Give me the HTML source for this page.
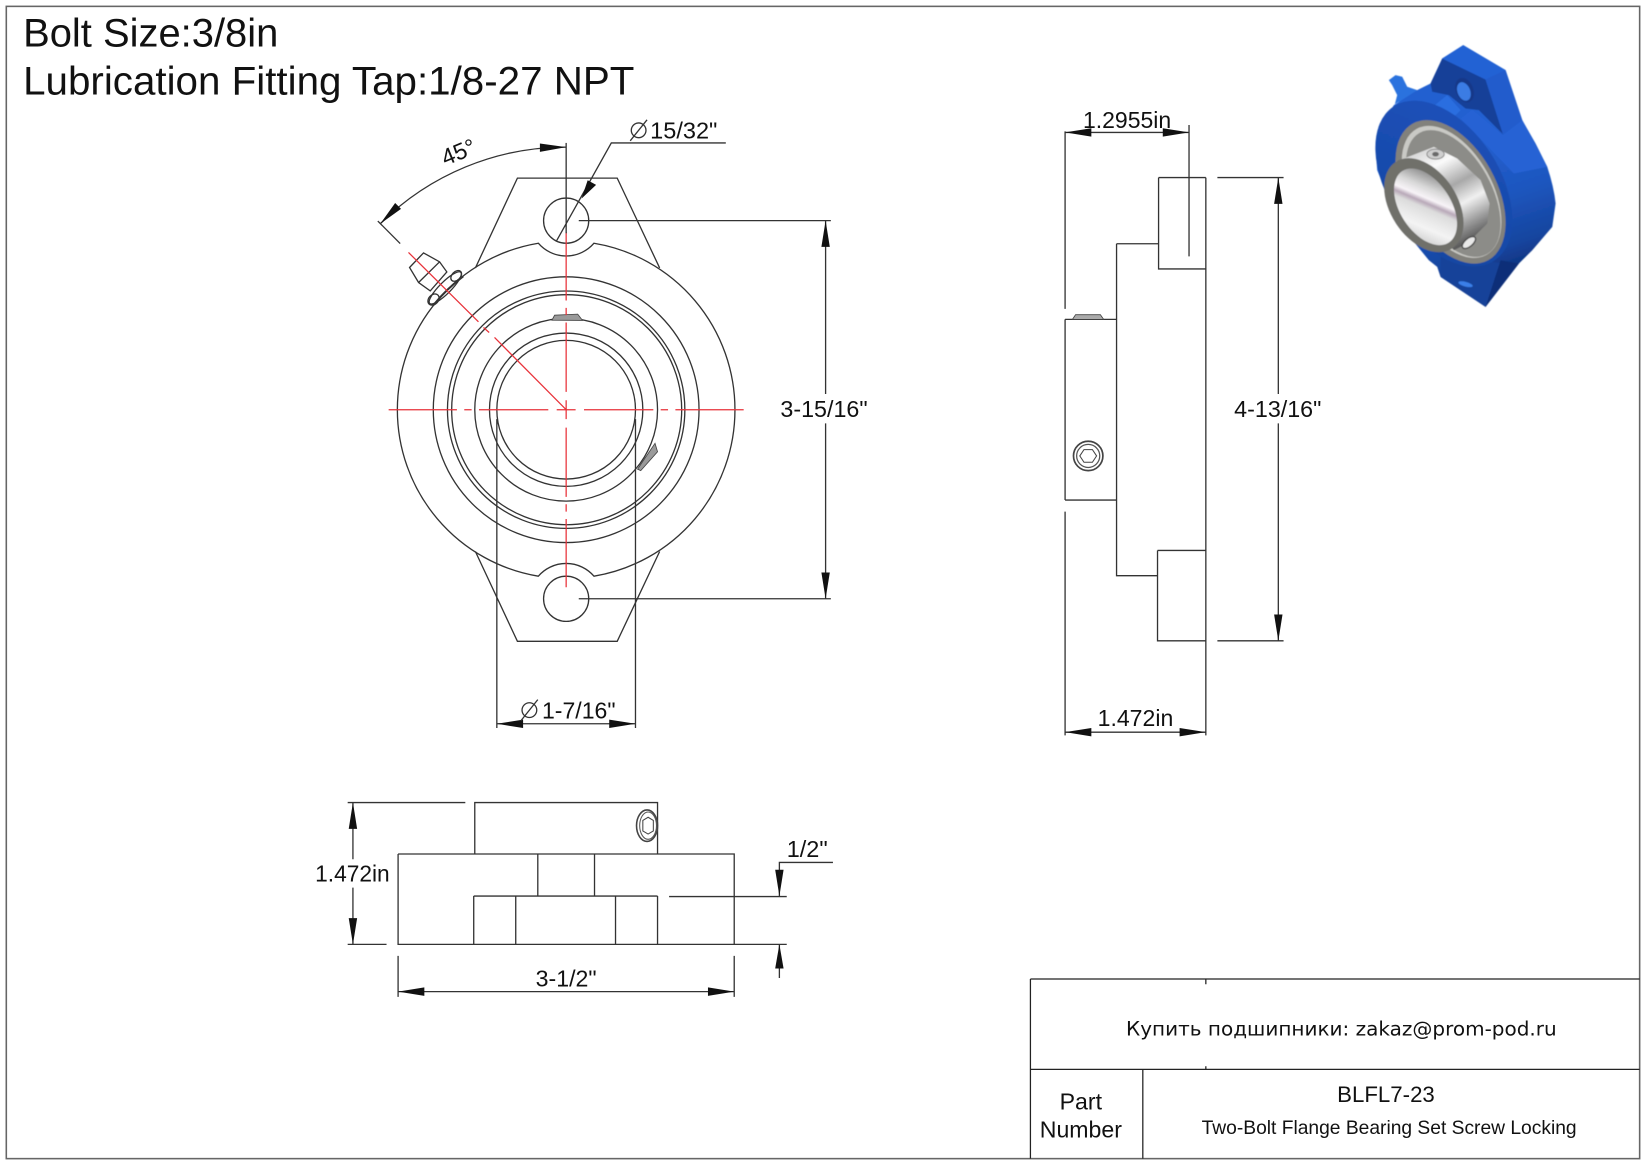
<!DOCTYPE html>
<html><head><meta charset="utf-8"><style>
html,body{margin:0;padding:0;background:#fff;width:1647px;height:1165px;overflow:hidden}
svg{display:block}
text{font-family:"Liberation Sans",sans-serif;fill:#111}
.l{fill:none;stroke:#333;stroke-width:1.25}
.r{fill:none;stroke:#e8323a;stroke-width:1.2}
.a{fill:#111;stroke:none}
</style></head><body>
<svg width="1647" height="1165" viewBox="0 0 1568 1109" xmlns="http://www.w3.org/2000/svg">
<defs>
<linearGradient id="flank" gradientUnits="userSpaceOnUse" x1="420" y1="300" x2="560" y2="720"><stop offset="0" stop-color="#2460d0"/><stop offset=".45" stop-color="#1e57c0"/><stop offset=".8" stop-color="#16459f"/><stop offset="1" stop-color="#0d2f78"/></linearGradient>
<linearGradient id="face" gradientUnits="userSpaceOnUse" x1="150" y1="230" x2="470" y2="700"><stop offset="0" stop-color="#1c52bc"/><stop offset="1" stop-color="#16459f"/></linearGradient>
<linearGradient id="silver" gradientUnits="userSpaceOnUse" x1="260" y1="350" x2="405" y2="620"><stop offset="0" stop-color="#d8d8d8"/><stop offset=".2" stop-color="#fafafa"/><stop offset=".45" stop-color="#a8a8a8"/><stop offset=".65" stop-color="#f0f0f0"/><stop offset=".85" stop-color="#9a9a9a"/><stop offset="1" stop-color="#5c5c5c"/></linearGradient>
<linearGradient id="bore" gradientUnits="userSpaceOnUse" x1="185" y1="430" x2="320" y2="630"><stop offset="0" stop-color="#6a6a6a"/><stop offset=".28" stop-color="#d8d8d8"/><stop offset=".4" stop-color="#f8f4f8"/><stop offset=".46" stop-color="#b8a8b8"/><stop offset=".52" stop-color="#dcdcdc"/><stop offset=".75" stop-color="#f4f4f4"/><stop offset="1" stop-color="#c4c4c4"/></linearGradient>
<filter id="b"><feGaussianBlur stdDeviation="1.6"/></filter>
</defs>
<rect x="0" y="0" width="1568" height="1109" fill="#fff"/>
<rect x="6" y="6" width="1555" height="1097" fill="none" stroke="#666" stroke-width="1.5"/>

<text x="22" y="44" font-size="38" textLength="243" lengthAdjust="spacingAndGlyphs">Bolt Size:3/8in</text>
<text x="22" y="90" font-size="38" textLength="582" lengthAdjust="spacingAndGlyphs">Lubrication Fitting Tap:1/8-27 NPT</text>

<!-- FRONT VIEW -->
<g fill="none" stroke="#333" stroke-width="1.25">
<polygon points="389.9,254.6 403.2,240.7 418.5,249.2 425.4,258.8 409.6,276.9 398.5,268.9"/>
<path d="M398.5,268.9L418.5,249.2"/>
<ellipse cx="423.9" cy="274" rx="21" ry="5.5" transform="rotate(-45 423.9 274)"/>
<ellipse cx="412.7" cy="285.1" rx="6" ry="4.5" transform="rotate(-45 412.7 285.1)"/>
<ellipse cx="434.3" cy="262.6" rx="6" ry="4" transform="rotate(-45 434.3 262.6)"/>
</g>
<path d="M413,290 A160.7,160.7 0 0 1 441,263" fill="none" stroke="#333" stroke-width="2"/>
<path class="l" d="M452.6,255 L492.6,169.5 H587.6 L628,255"/>
<path class="l" d="M452.6,525 L492.6,610.5 H587.6 L628,525"/>
<path class="l" d="M512.5,231.5 A35,35 0 0 0 565.5,231.5 A160.7,160.7 0 0 1 565.5,548.5 A35,35 0 0 0 512.5,548.5 A160.7,160.7 0 0 1 512.5,231.5Z"/>
<circle class="l" cx="539" cy="210" r="21.5"/>
<circle class="l" cx="539" cy="570" r="21.5"/>
<circle class="l" cx="539" cy="390" r="126.5"/>
<circle class="l" cx="539" cy="390" r="113"/>
<circle class="l" cx="539.5" cy="390" r="109.5"/>
<circle class="l" cx="539" cy="390" r="87"/>
<circle class="l" cx="539" cy="390" r="73"/>
<circle class="l" cx="539" cy="390" r="66"/>
<polygon points="525.5,304.8 528,300 550,299 554.6,305" fill="#9a9a9a" stroke="#444" stroke-width=".8"/>
<polygon points="607,446.6 623.6,422 626,430 610,448" fill="#9a9a9a" stroke="#444" stroke-width=".8"/>
<path class="r" d="M370,390H435M442,390H449M456,390H522M530,390H548M556,390H622M629,390H636M643,390H708"/>
<path class="r" d="M539,221V286M539,293V300M539,307V373M539,381V399M539,407V473M539,480V487M539,494V559"/>
<path class="r" d="M388.9,240.3L455.5,306.3M460.3,311.7L465.7,316.5M470.8,321.2L539,390"/>
<path class="l" d="M539,136V222"/>
<path class="l" d="M359.7,210.4L381,231.8"/>
<path class="l" d="M362,213A250,250 0 0 1 539,140"/>
<polygon class="a" points="539,140 514,136.5 514,144.5"/>
<polygon class="a" points="362,213 381.8,198.8 376.2,193.2"/>
<text x="0" y="0" font-size="22" transform="translate(424,158) rotate(-22.5)">45°</text>
<path class="l" d="M530,229L582,136H691"/>
<polygon class="a" points="553.6,189 559.5,171.5 567.5,176"/>
<circle class="l" cx="608" cy="124" r="7"/><path class="l" d="M600,134L616,114"/>
<text x="619" y="132" font-size="22" textLength="64" lengthAdjust="spacingAndGlyphs">15/32"</text>
<path class="l" d="M551,210H791M551,570H791M786,210V375M786,403V570"/>
<polygon class="a" points="786,210 782,235 790,235"/><polygon class="a" points="786,570 782,545 790,545"/>
<text x="743" y="397" font-size="22" textLength="83" lengthAdjust="spacingAndGlyphs">3-15/16"</text>
<path class="l" d="M473,399V693M605,399V693M473,689H605"/>
<polygon class="a" points="473,689 498,685 498,693"/><polygon class="a" points="605,689 580,685 580,693"/>
<circle class="l" cx="504" cy="676" r="7"/><path class="l" d="M496,686L512,666"/>
<text x="516" y="684" font-size="22" textLength="70" lengthAdjust="spacingAndGlyphs">1-7/16"</text>

<!-- SIDE VIEW -->
<path class="l" d="M1148,169V700M1103,169H1148M1103,169V256H1148M1063,232H1103M1063,232V548H1102M1102,524V610H1148M1102,524H1148"/>
<path class="l" d="M1014,304H1063M1014,476H1063M1014,304V476M1014,125V294M1014,487V700"/>
<polygon points="1021,304 1024,299.5 1047.6,299.5 1050.7,304" fill="#aaa" stroke="#444" stroke-width=".8"/>
<circle cx="1036" cy="434" r="14" fill="none" stroke="#444" stroke-width="1.6"/>
<circle cx="1036" cy="434" r="11" fill="none" stroke="#555" stroke-width="1.2"/>
<polygon points="1028,434 1032,428 1040,428 1044,434 1040,440 1032,440" fill="none" stroke="#444" stroke-width="1"/>
<path class="l" d="M1132,119V244M1014,126H1132"/>
<polygon class="a" points="1014,126 1039,122 1039,130"/><polygon class="a" points="1132,126 1107,122 1107,130"/>
<text x="1031" y="122" font-size="22" textLength="84" lengthAdjust="spacingAndGlyphs">1.2955in</text>
<path class="l" d="M1159,169H1222M1159,610H1222M1217,169V375M1217,403V610"/>
<polygon class="a" points="1217,169 1213,194 1221,194"/><polygon class="a" points="1217,610 1213,585 1221,585"/>
<text x="1175" y="397" font-size="22" textLength="83" lengthAdjust="spacingAndGlyphs">4-13/16"</text>
<path class="l" d="M1014,697H1148"/>
<polygon class="a" points="1014,697 1039,693 1039,701"/><polygon class="a" points="1148,697 1123,693 1123,701"/>
<text x="1045" y="691" font-size="22" textLength="72" lengthAdjust="spacingAndGlyphs">1.472in</text>

<!-- BOTTOM VIEW -->
<path class="l" d="M379,813H699V899M379,813V899H749M452,813V764H626V813M512,813V853M566,813V853M451,853H626M451,853V899M491,853V899M586,853V899M626,853V899M637,853.5H749"/>
<ellipse cx="616" cy="786" rx="10" ry="15" fill="none" stroke="#444" stroke-width="1.5"/>
<ellipse cx="617" cy="786" rx="8" ry="13" fill="none" stroke="#555" stroke-width="1"/>
<polygon points="617,778 622,781 622,791 617,794 612,791 612,781" fill="none" stroke="#444" stroke-width="1"/>
<path class="l" d="M331,764H443M331,899H368M336,764V818M336,845V899"/>
<polygon class="a" points="336,764 332,789 340,789"/><polygon class="a" points="336,899 332,874 340,874"/>
<text x="300" y="839" font-size="22" textLength="71" lengthAdjust="spacingAndGlyphs">1.472in</text>
<path class="l" d="M379,910V949M699,910V949M379,944H699"/>
<polygon class="a" points="379,944 404,940 404,948"/><polygon class="a" points="699,944 674,940 674,948"/>
<text x="510" y="939" font-size="22" textLength="58" lengthAdjust="spacingAndGlyphs">3-1/2"</text>
<path class="l" d="M793,821H742V853M742,899V931"/>
<polygon class="a" points="742,853 738,828 746,828"/><polygon class="a" points="742,899 738,922 746,922"/>
<text x="749" y="816" font-size="22" textLength="39" lengthAdjust="spacingAndGlyphs">1/2"</text>

<!-- TITLE BLOCK -->
<path d="M981,932H1561M981,1018H1561M981,932V1103M1088,1018V1103M1148,932V937M1148,1015V1018" fill="none" stroke="#222" stroke-width="1.2"/>
<text x="1072" y="986" font-size="19" textLength="410" lengthAdjust="spacingAndGlyphs" style="font-family:'DejaVu Sans','Liberation Sans',sans-serif">Купить подшипники: zakaz@prom-pod.ru</text>
<text x="1029" y="1056" font-size="22" text-anchor="middle">Part</text>
<text x="1029" y="1083" font-size="22" text-anchor="middle">Number</text>
<text x="1273" y="1049" font-size="21" textLength="93" lengthAdjust="spacingAndGlyphs">BLFL7-23</text>
<text x="1144" y="1079.5" font-size="18.5" textLength="357" lengthAdjust="spacingAndGlyphs">Two-Bolt Flange Bearing Set Screw Locking</text>

<!-- 3D RENDER -->
<g transform="translate(1276.2,28.6) scale(.3175)" filter="url(#b)">
<path d="M145,150 L165,135 L185,140 L200,170 L230,180 L212,205 L175,215 L163,222 L170,195 L155,165Z" fill="#2a72de"/>
<path d="M368,45 L495,120 L545,270 L585,340 L620,410 Q640,470 645,520 L635,590 L575,660 L535,700 L435,830 L300,740 L290,710 L265,690 L175,580 L110,420 L105,350 L125,280 L160,225 L230,180 L270,160 L305,85Z" fill="url(#flank)"/>
<polygon points="305,85 435,148 487,312 415,240 375,235 325,195 275,185 270,160" fill="#163f98"/>
<polygon points="305,85 368,45 495,120 435,148" fill="#2462d4"/>
<polygon points="435,148 495,120 545,270 487,312" fill="#205ccc"/>
<ellipse cx="372" cy="180" rx="26" ry="38" transform="rotate(-22 372 180)" fill="#123888"/>
<ellipse cx="370" cy="184" rx="19" ry="29" transform="rotate(-22 370 184)" fill="#3a7ce4"/>
<polygon points="283,225 320,195 360,240 335,265" fill="#2c6ee0"/>
<polygon points="360,265 395,238 487,315 545,270 620,410 520,430" fill="#2562d4"/>
<polygon points="300,680 500,700 435,830 300,740" fill="#174299"/>
<polygon points="435,830 535,700 480,690" fill="#0d2f78"/>
<ellipse cx="375" cy="762" rx="22" ry="7" transform="rotate(15 375 762)" fill="#3a7fe8"/>
<ellipse cx="310" cy="460" rx="276" ry="167" transform="rotate(57 310 460)" fill="url(#face)"/>
<ellipse cx="330" cy="485" rx="234" ry="137" transform="rotate(61 330 485)" fill="#82817b"/>
<ellipse cx="333" cy="485" rx="216" ry="122" transform="rotate(61 333 485)" fill="#c9c9c5"/>
<ellipse cx="338" cy="490" rx="208" ry="114" transform="rotate(61 338 490)" fill="#8c8c88"/>
<polygon points="190,385 280,350 350,385 420,450 447,520 440,580 380,640 340,660 165,395" fill="url(#silver)"/>
<ellipse cx="285" cy="372" rx="26" ry="15" fill="#cfcfcf" stroke="#888" stroke-width="3"/>
<ellipse cx="285" cy="372" rx="10" ry="7" fill="#6a6a6a"/>
<ellipse cx="385" cy="637" rx="24" ry="12" transform="rotate(-40 385 637)" fill="#e8e8e8" stroke="#444" stroke-width="4"/>
<ellipse cx="250" cy="525" rx="155" ry="100" transform="rotate(57 250 525)" fill="#6f6f6b"/>
<ellipse cx="255" cy="530" rx="128" ry="76" transform="rotate(57 255 530)" fill="url(#bore)"/>
</g>
</svg>
</body></html>
